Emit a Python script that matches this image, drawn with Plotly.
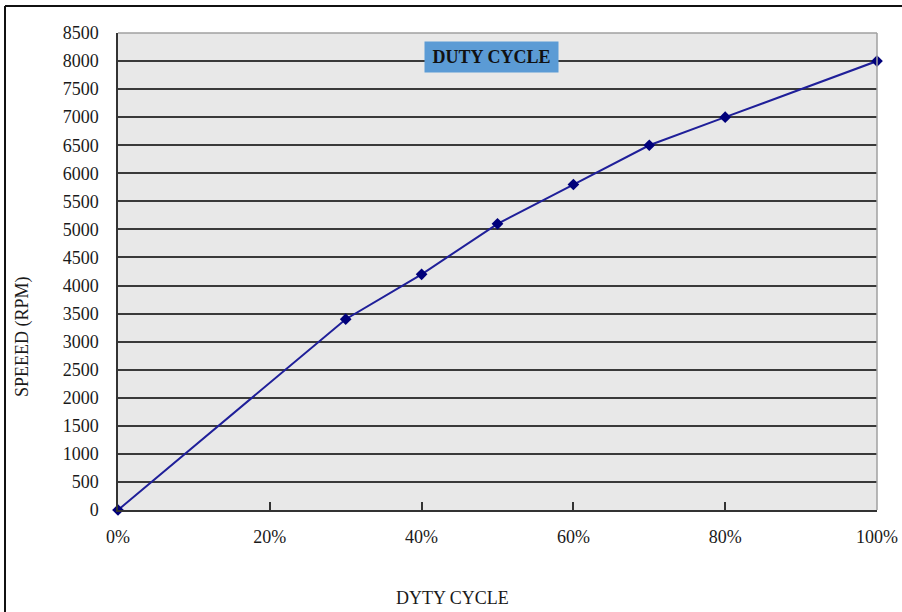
import plotly.graph_objects as go

duty = [0, 30, 40, 50, 60, 70, 80, 100]
speed = [0, 3400, 4200, 5100, 5800, 6500, 7000, 8000]
x_ticks = [0, 20, 40, 60, 80, 100]
x_tick_labels = ["0%", "20%", "40%", "60%", "80%", "100%"]
y_ticks = list(range(0, 8501, 500))

W, H = 902, 612
L, R, T, B = 118, 877, 33, 510
pw, ph = R - L, B - T

font = "Liberation Serif, DejaVu Serif, serif"

fig = go.Figure()
fig.add_trace(go.Scatter(
    x=duty, y=speed, mode="lines+markers",
    line=dict(color="#1f1f99", width=2),
    marker=dict(symbol="diamond", size=9, color="#00007a"),
    cliponaxis=False, showlegend=False,
))

def px(xp):
    return (xp - L) / pw

def py(yp):
    return (B - yp) / ph

fig.update_layout(
    width=W, height=H, autosize=False,
    margin=dict(l=L, r=W - R, t=T, b=H - B, autoexpand=False),
    paper_bgcolor="white",
    plot_bgcolor="#e8e8e8",
    font=dict(family=font, size=18, color="#1a1a1a"),
    xaxis=dict(
        range=[0, 100], tickvals=x_ticks, ticktext=x_tick_labels,
        showgrid=False, zeroline=False, showline=True, automargin=False,
        linecolor="#333333", linewidth=1.5,
        ticks="inside", ticklen=8, tickcolor="#333333", tickwidth=1.5,
        ticklabelstandoff=10,
        tickfont=dict(family=font, size=18),
    ),
    yaxis=dict(
        range=[0, 8500], tickvals=y_ticks, automargin=False,
        showgrid=True, gridcolor="#3a3a3a", gridwidth=1.5,
        zeroline=False, showline=True, linecolor="#333333", linewidth=1.5,
        ticks="", ticklabelstandoff=14,
        tickfont=dict(family=font, size=18),
    ),
    shapes=[
        dict(type="line", xref="paper", yref="paper", x0=0, x1=1, y0=1, y1=1,
             line=dict(color="#a0a0a0", width=1.5)),
        dict(type="line", xref="paper", yref="paper", x0=1, x1=1, y0=0, y1=1,
             line=dict(color="#a0a0a0", width=1.5)),
        dict(type="line", xref="paper", yref="paper",
             x0=px(5), x1=px(905), y0=py(6), y1=py(6),
             line=dict(color="#111111", width=2)),
        dict(type="line", xref="paper", yref="paper",
             x0=px(5), x1=px(5), y0=py(6), y1=py(615),
             line=dict(color="#111111", width=2)),
    ],
    annotations=[
        dict(text="<b>DUTY CYCLE</b>", xref="paper", yref="paper",
             x=px(491), y=py(57), xanchor="center", yanchor="middle",
             showarrow=False, bgcolor="#5b9bd5", borderpad=5,
             width=123, height=20,
             font=dict(family=font, size=18, color="#111111")),
        dict(text="SPEEED (RPM)", xref="paper", yref="paper",
             x=px(22), y=py(337), xanchor="center", yanchor="middle",
             textangle=-90, showarrow=False,
             font=dict(family=font, size=18, color="#1a1a1a")),
        dict(text="DYTY CYCLE", xref="paper", yref="paper",
             x=px(452), y=py(598), xanchor="center", yanchor="middle",
             showarrow=False,
             font=dict(family=font, size=18, color="#1a1a1a")),
    ],
)

html = fig.to_html(
    config={"displayModeBar": False, "responsive": False},
    full_html=True,
)
html = html.replace("<head>", "<head><style>html,body{margin:0;padding:0;overflow:hidden;}</style>", 1)
with open("out.html", "w", encoding="utf-8") as f:
    f.write(html)
